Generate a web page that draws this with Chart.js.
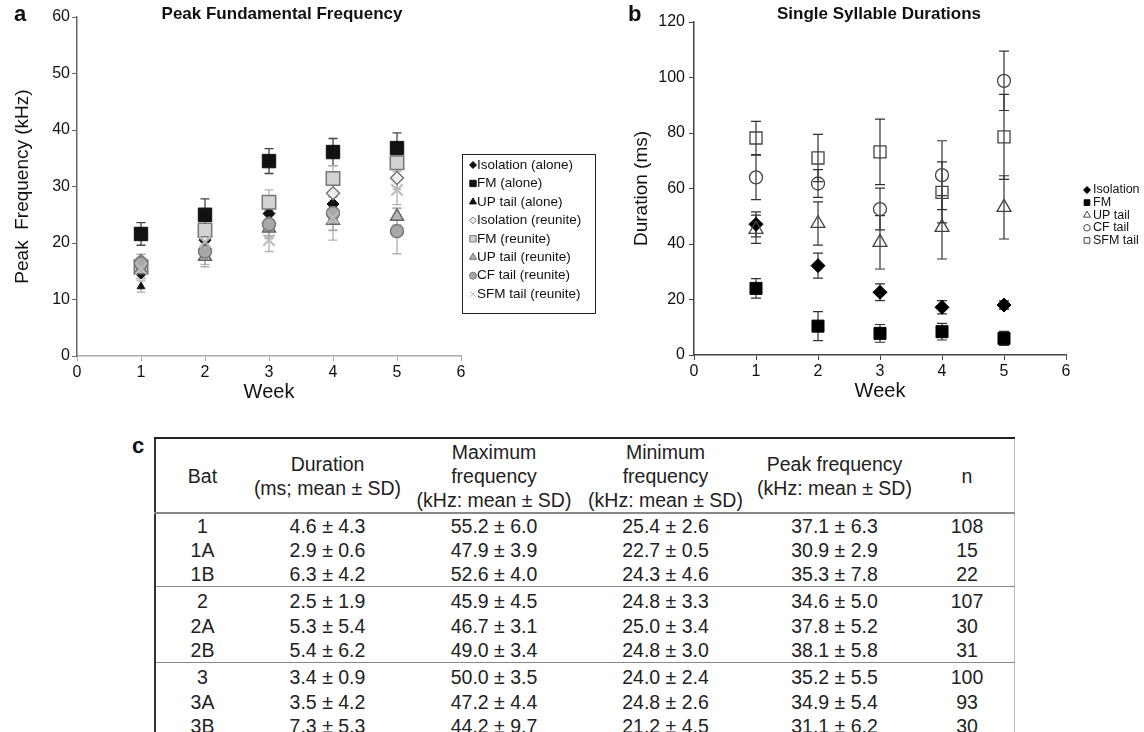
<!DOCTYPE html>
<html>
<head>
<meta charset="utf-8">
<script src="https://cdn.jsdelivr.net/npm/chart.js@4.4.1/dist/chart.umd.min.js"></script>
<style>
  body { margin: 0; background: #fff; width: 1144px; height: 732px; overflow: hidden; position: relative;
         font-family: "Liberation Sans", Arial, sans-serif; color: #111; }
  canvas { position: absolute; top: 0; }
  #ca { left: 0; }
  #cb { left: 615px; }
  .lbl { position: absolute; font-weight: bold; line-height: 24px; white-space: nowrap; }
  .ttl { position: absolute; font-weight: bold; font-size: 17px; line-height: 20px; transform: translateX(-50%); white-space: nowrap; }
  #tbl { position: absolute; left: 154px; top: 437px; border-collapse: collapse; font-size: 19.5px; color: #222;
         border-top: 2px solid #222; border-left: 2px solid #333; border-right: 1px solid #bbb; }
  #tbl th { font-weight: normal; line-height: 24px; height: 73px; padding: 0; vertical-align: middle;
            border-bottom: 2px solid #888; white-space: nowrap; }
  #tbl td { padding: 0; height: 24px; line-height: 24px; text-align: center; white-space: nowrap; }
  #tbl tr.grp td { border-top: 1.5px solid #888; height: 26px; padding-top: 1px; }
</style>
</head>
<body>
<canvas id="ca" width="615" height="410"></canvas>
<canvas id="cb" width="529" height="410"></canvas>
<div class="lbl" style="left:14px;top:2px;font-size:22px">a</div>
<div class="lbl" style="left:628px;top:2px;font-size:22px">b</div>
<div class="lbl" style="left:132px;top:434px;font-size:22px">c</div>
<div class="ttl" style="left:282px;top:4px">Peak Fundamental Frequency</div>
<div class="ttl" style="left:879px;top:4px">Single Syllable Durations</div>
<table id="tbl"><thead></thead><tbody></tbody></table>
<script>
// ----- panel a: peak fundamental frequency (kHz) -----
const weeks = [1, 2, 3, 4, 5];

const isoAlone     = [14.7, 20.5, 25.2, 26.9, null];
const fmAlone      = [21.6, 25.0, 34.5, 36.1, 36.8];
const upAlone      = [12.3, 18.0, 22.5, 25.5, null];
const isoReunite   = [16.8, 21.1, 23.5, 28.8, 31.5];
const fmReunite    = [15.8, 22.3, 27.2, 31.4, 34.2];
const upReunite    = [15.2, 17.6, 22.6, 24.0, 24.7];
const cfReunite    = [16.4, 18.5, 23.3, 25.3, 22.1];
const sfmReunite   = [15.5, 20.2, 20.5, 24.5, 29.4];

const isoAloneSd   = [1.0, 1.2, 1.2, 1.2, null];
const fmAloneSd    = [2.0, 2.8, 2.2, 2.4, 2.7];
const upAloneSd    = [1.0, 1.0, 1.2, 1.2, null];
const isoReuniteSd = [1.2, 1.5, 1.5, 2.0, 2.0];
const fmReuniteSd  = [1.5, 2.2, 2.2, 2.3, 1.5];
const upReuniteSd  = [1.5, 1.8, 1.5, 1.8, 1.5];
const cfReuniteSd  = [1.6, 2.3, 2.5, 3.0, 4.0];
const sfmReuniteSd = [1.5, 1.5, 2.0, 4.0, 2.6];

// ----- panel b: single syllable durations (ms) -----
const isoDur = [47.1, 32.2, 22.6, 17.2, 18.0];
const fmDur  = [24.0, 10.4, 7.8, 8.4, 6.0];
const upDur  = [45.3, 47.4, 40.6, 46.0, 53.2];
const cfDur  = [64.0, 61.8, 52.6, 64.8, 98.8];
const sfmDur = [78.2, 71.0, 73.2, 58.6, 78.6];

const isoDurSd = [4.5, 4.5, 3.0, 2.4, 1.5];
const fmDurSd  = [3.5, 5.2, 3.2, 3.0, 2.5];
const upDurSd  = [5.1, 7.8, 9.6, 11.4, 11.4];
const cfDurSd  = [8.0, 5.0, 7.5, 12.4, 10.7];
const sfmDurSd = [6.0, 8.5, 11.8, 11.0, 15.3];

// ----- panel c: table -----
const bats      = ["1", "1A", "1B", "2", "2A", "2B", "3", "3A", "3B"];
const durMean   = [4.6, 2.9, 6.3, 2.5, 5.3, 5.4, 3.4, 3.5, 7.3];
const durSd     = [4.3, 0.6, 4.2, 1.9, 5.4, 6.2, 0.9, 4.2, 5.3];
const maxMean   = [55.2, 47.9, 52.6, 45.9, 46.7, 49.0, 50.0, 47.2, 44.2];
const maxSd     = [6.0, 3.9, 4.0, 4.5, 3.1, 3.4, 3.5, 4.4, 9.7];
const minMean   = [25.4, 22.7, 24.3, 24.8, 25.0, 24.8, 24.0, 24.8, 21.2];
const minSd     = [2.6, 0.5, 4.6, 3.3, 3.4, 3.0, 2.4, 2.6, 4.5];
const peakMean  = [37.1, 30.9, 35.3, 34.6, 37.8, 38.1, 35.2, 34.9, 31.1];
const peakSd    = [6.3, 2.9, 7.8, 5.0, 5.2, 5.8, 5.5, 5.4, 6.2];
const nCalls    = [108, 15, 22, 107, 30, 31, 100, 93, 30];

const FONT = '"Liberation Sans", Arial, sans-serif';

function pts(vals) {
  return weeks.map((w, i) => ({ x: w, y: vals[i] }));
}

function ser(label, vals, sd, style, r, fill, line, bw, errColor, legR) {
  return {
    label: label, data: pts(vals), sd: sd, errColor: errColor,
    pointStyle: style, pointRadius: r, pointHoverRadius: r,
    backgroundColor: fill, borderColor: line, borderWidth: bw, legR: legR,
  };
}

// error bars drawn under the markers
const errorBars = {
  id: "errorBars",
  beforeDatasetsDraw(chart) {
    const { ctx } = chart;
    const x = chart.scales.x, y = chart.scales.y;
    const cap = chart.options.plugins.errorBars.cap;
    chart.data.datasets.forEach((ds) => {
      ctx.save();
      ctx.strokeStyle = ds.errColor;
      ctx.lineWidth = chart.options.plugins.errorBars.width;
      ds.data.forEach((p, j) => {
        const e = ds.sd[j];
        if (e == null || p.y == null) return;
        const px = x.getPixelForValue(p.x);
        const t = y.getPixelForValue(p.y + e);
        const b = y.getPixelForValue(p.y - e);
        ctx.beginPath();
        ctx.moveTo(px, t); ctx.lineTo(px, b);
        ctx.moveTo(px - cap, t); ctx.lineTo(px + cap, t);
        ctx.moveTo(px - cap, b); ctx.lineTo(px + cap, b);
        ctx.stroke();
      });
      ctx.restore();
    });
  },
};

// hand placed legend (box, symbols and labels)
const boxLegend = {
  id: "boxLegend",
  afterDraw(chart) {
    const o = chart.options.plugins.boxLegend;
    const ctx = chart.ctx;
    ctx.save();
    if (o.box) {
      ctx.strokeStyle = "#222";
      ctx.lineWidth = 1;
      ctx.strokeRect(o.box[0] + 0.5, o.box[1] + 0.5, o.box[2], o.box[3]);
    }
    ctx.font = o.fontSize + "px " + FONT;
    ctx.textBaseline = "middle";
    chart.data.datasets.forEach((ds, i) => {
      const yy = o.y + i * o.step;
      ctx.fillStyle = ds.backgroundColor;
      ctx.strokeStyle = ds.borderColor;
      ctx.lineWidth = 1;
      Chart.helpers.drawPoint(ctx, { pointStyle: ds.pointStyle, radius: ds.legR, borderWidth: 1, rotation: 0 }, o.mx, yy);
      ctx.fillStyle = "#111";
      ctx.fillText(ds.label, o.tx, yy);
    });
    ctx.restore();
  },
};

function axes(xOpt, yOpt) {
  const tickFont = { family: FONT, size: 16 };
  return {
    x: {
      type: "linear", min: 0, max: 6,
      ticks: { stepSize: 1, color: "#111", font: tickFont, padding: 2 },
      grid: { drawOnChartArea: false, tickLength: 5, color: xOpt.color },
      border: { color: xOpt.color, width: 1.5 },
      title: { display: true, text: "Week", color: "#111", font: { family: FONT, size: 20 }, padding: { top: 0, bottom: 2 } },
      afterFit(s) { s.height = 50; },
    },
    y: {
      type: "linear", min: 0, max: yOpt.max,
      ticks: { stepSize: yOpt.step, color: "#111", font: tickFont, padding: yOpt.pad },
      grid: { drawOnChartArea: false, tickLength: 5, color: yOpt.color },
      border: { color: yOpt.color, width: 1.5 },
      title: { display: true, text: yOpt.title, color: "#111", font: { family: FONT, size: 19 }, padding: { top: yOpt.tpad, bottom: 0 } },
      afterFit(s) { s.width = yOpt.width; },
    },
  };
}

const setsA = [
  ser("Isolation (alone)",   isoAlone,   isoAloneSd,   "rectRot",  6,   "#111",    "#111", 1,   "#b0b0b0", 3.5),
  ser("FM (alone)",          fmAlone,    fmAloneSd,    "rect",     9.5, "#111",    "#111", 1,   "#444",    4.5),
  ser("UP tail (alone)",     upAlone,    upAloneSd,    "triangle", 4.5, "#111",    "#111", 1,   "#b0b0b0", 4),
  ser("Isolation (reunite)", isoReunite, isoReuniteSd, "rectRot",  6.5, "#f0f0f0", "#777", 1.5, "#b0b0b0", 3.5),
  ser("FM (reunite)",        fmReunite,  fmReuniteSd,  "rect",     9.5, "#d2d2d2", "#777", 1.5, "#b0b0b0", 4.5),
  ser("UP tail (reunite)",   upReunite,  upReuniteSd,  "triangle", 7.5, "#b5b5b5", "#666", 1.5, "#b0b0b0", 4),
  ser("CF tail (reunite)",   cfReunite,  cfReuniteSd,  "circle",   6.5, "#a8a8a8", "#777", 1.5, "#b0b0b0", 3.5),
  ser("SFM tail (reunite)",  sfmReunite, sfmReuniteSd, "crossRot", 8,   "#bbb",    "#bbb", 2,   "#b0b0b0", 4),
];
setsA.forEach((d, i) => { d.order = 10 - i; });

new Chart(document.getElementById("ca"), {
  type: "scatter",
  data: { datasets: setsA },
  options: {
    responsive: false, animation: false,
    layout: { padding: { left: 0, right: 154, top: 17, bottom: 4 } },
    scales: axes({ color: "#aaa" }, { max: 60, step: 10, pad: 2, title: "Peak  Frequency (kHz)", tpad: 11, width: 77, color: "#666" }),
    plugins: {
      legend: { display: false }, tooltip: { enabled: false },
      errorBars: { cap: 4.5, width: 1.3 },
      boxLegend: { box: [462, 154, 133, 159], mx: 473, tx: 477, y: 165, step: 18.45, fontSize: 13.5 },
    },
  },
  plugins: [errorBars, boxLegend],
});

const setsB = [
  ser("Isolation", isoDur, isoDurSd, "rectRot",  7,   "#000",        "#000", 1,   "#333", 3.5),
  ser("FM",        fmDur,  fmDurSd,  "rect",     8.5, "#000",        "#000", 1,   "#333", 4),
  ser("UP tail",   upDur,  upDurSd,  "triangle", 8,   "rgba(0,0,0,0)", "#444", 1.3, "#333", 4),
  ser("CF tail",   cfDur,  cfDurSd,  "circle",   6.5, "rgba(0,0,0,0)", "#444", 1.3, "#333", 3.2),
  ser("SFM tail",  sfmDur, sfmDurSd, "rect",     8.5, "rgba(0,0,0,0)", "#444", 1.3, "#333", 4),
];
setsB.forEach((d, i) => { d.order = 10 - i; });

new Chart(document.getElementById("cb"), {
  type: "scatter",
  data: { datasets: setsB },
  options: {
    responsive: false, animation: false,
    layout: { padding: { left: 0, right: 78, top: 22, bottom: 5 } },
    scales: axes({ color: "#444" }, { max: 120, step: 20, pad: 4, title: "Duration (ms)", tpad: 15, width: 79, color: "#444" }),
    plugins: {
      legend: { display: false }, tooltip: { enabled: false },
      errorBars: { cap: 5, width: 1.2 },
      boxLegend: { box: null, mx: 472, tx: 478, y: 190, step: 12.6, fontSize: 12.5 },
    },
  },
  plugins: [errorBars, boxLegend],
});

// ----- table -----
const colW = [93, 157, 176, 167, 171, 94];
const heads = ["Bat", "Duration<br>(ms; mean ± SD)", "Maximum<br>frequency<br>(kHz: mean ± SD)",
  "Minimum<br>frequency<br>(kHz: mean ± SD)", "Peak frequency<br>(kHz: mean ± SD)", "n"];
const thead = document.querySelector("#tbl thead");
thead.innerHTML = "<tr>" + heads.map((h, i) => `<th style="width:${colW[i]}px">${h}</th>`).join("") + "</tr>";
const pm = (m, s) => `${m.toFixed(1)} ± ${s.toFixed(1)}`;
const tbody = document.querySelector("#tbl tbody");
bats.forEach((b, i) => {
  const tr = document.createElement("tr");
  if (i === 3 || i === 6) tr.className = "grp";
  tr.innerHTML = `
    <td>${b}</td>
    <td>${pm(durMean[i], durSd[i])}</td>
    <td>${pm(maxMean[i], maxSd[i])}</td>
    <td>${pm(minMean[i], minSd[i])}</td>
    <td>${pm(peakMean[i], peakSd[i])}</td>
    <td>${nCalls[i]}</td>`;
  tbody.appendChild(tr);
});
</script>
</body>
</html>
